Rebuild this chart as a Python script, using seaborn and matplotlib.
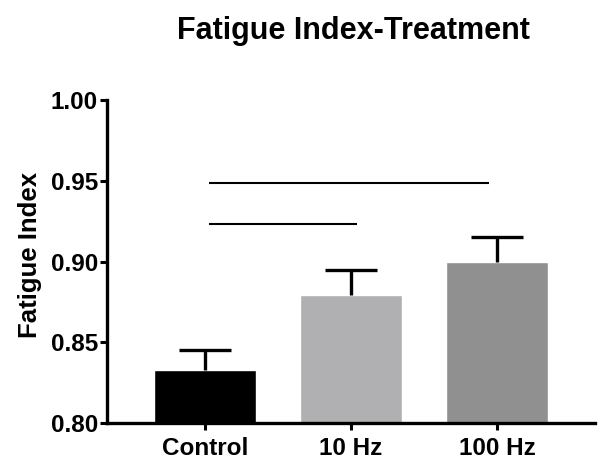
import numpy as np
import pandas as pd
import matplotlib
matplotlib.use('Agg')
import matplotlib.pyplot as plt
import seaborn as sns

groups = ['Control', '10 Hz', '100 Hz']
fatigue_mean = [0.833, 0.879, 0.900]
fatigue_sem = [0.012, 0.016, 0.015]
bar_colors = ['#000000', '#b0b0b3', '#909090']

# significance lines: (start x, end x, y level)
sig_lines = [(0.03, 1.04, 0.9232), (0.03, 1.945, 0.9488)]

sns.set_style('ticks')
plt.rcParams['font.family'] = ['Liberation Sans', 'DejaVu Sans']
plt.rcParams['font.weight'] = 'bold'
plt.rcParams['text.color'] = 'black'
plt.rcParams['axes.labelcolor'] = 'black'
plt.rcParams['xtick.color'] = 'black'
plt.rcParams['ytick.color'] = 'black'

df = pd.DataFrame({'group': groups, 'fatigue': fatigue_mean})

fig = plt.figure(figsize=(6.06, 4.70), dpi=100)
ax = fig.add_axes([0.1766, 0.10, 0.805, 0.687])

sns.barplot(data=df, x='group', y='fatigue', hue='group', palette=bar_colors,
            width=0.70, legend=False, ax=ax, saturation=1)

# upper-only error bars
xs = np.arange(len(groups))
tops = np.array(fatigue_mean) + np.array(fatigue_sem)
ax.vlines(xs, fatigue_mean, tops, color='black', lw=2.4, zorder=1)
ax.hlines(tops, xs - 0.178, xs + 0.178, color='black', lw=2.4, zorder=1)

for x0, x1, y in sig_lines:
    ax.plot([x0, x1], [y, y], color='black', lw=1.5, solid_capstyle='butt')

ax.set_ylim(0.80, 1.00)
ax.set_xlim(-0.67, 2.67)
ax.set_yticks([0.80, 0.85, 0.90, 0.95, 1.00])
ax.set_yticklabels(['0.80', '0.85', '0.90', '0.95', '1.00'])

ax.set_xlabel('')
ax.set_ylabel('Fatigue Index', fontsize=18.5, fontweight='bold')
ax.yaxis.set_label_coords(-0.133, 0.52)
ax.tick_params(axis='both', labelsize=17.5, width=2.2, length=5, pad=1.5)
ax.tick_params(axis='x', pad=5)
for lbl in ax.get_xticklabels() + ax.get_yticklabels():
    lbl.set_fontweight('bold')

sns.despine(ax=ax)
for side in ['left', 'bottom']:
    ax.spines[side].set_linewidth(2.4)
    ax.spines[side].set_color('black')

fig.text(0.583, 0.933, 'Fatigue Index-Treatment', ha='center', va='center',
         fontsize=22, fontweight='bold')

fig.savefig('out.png', dpi=100)
plt.close(fig)
